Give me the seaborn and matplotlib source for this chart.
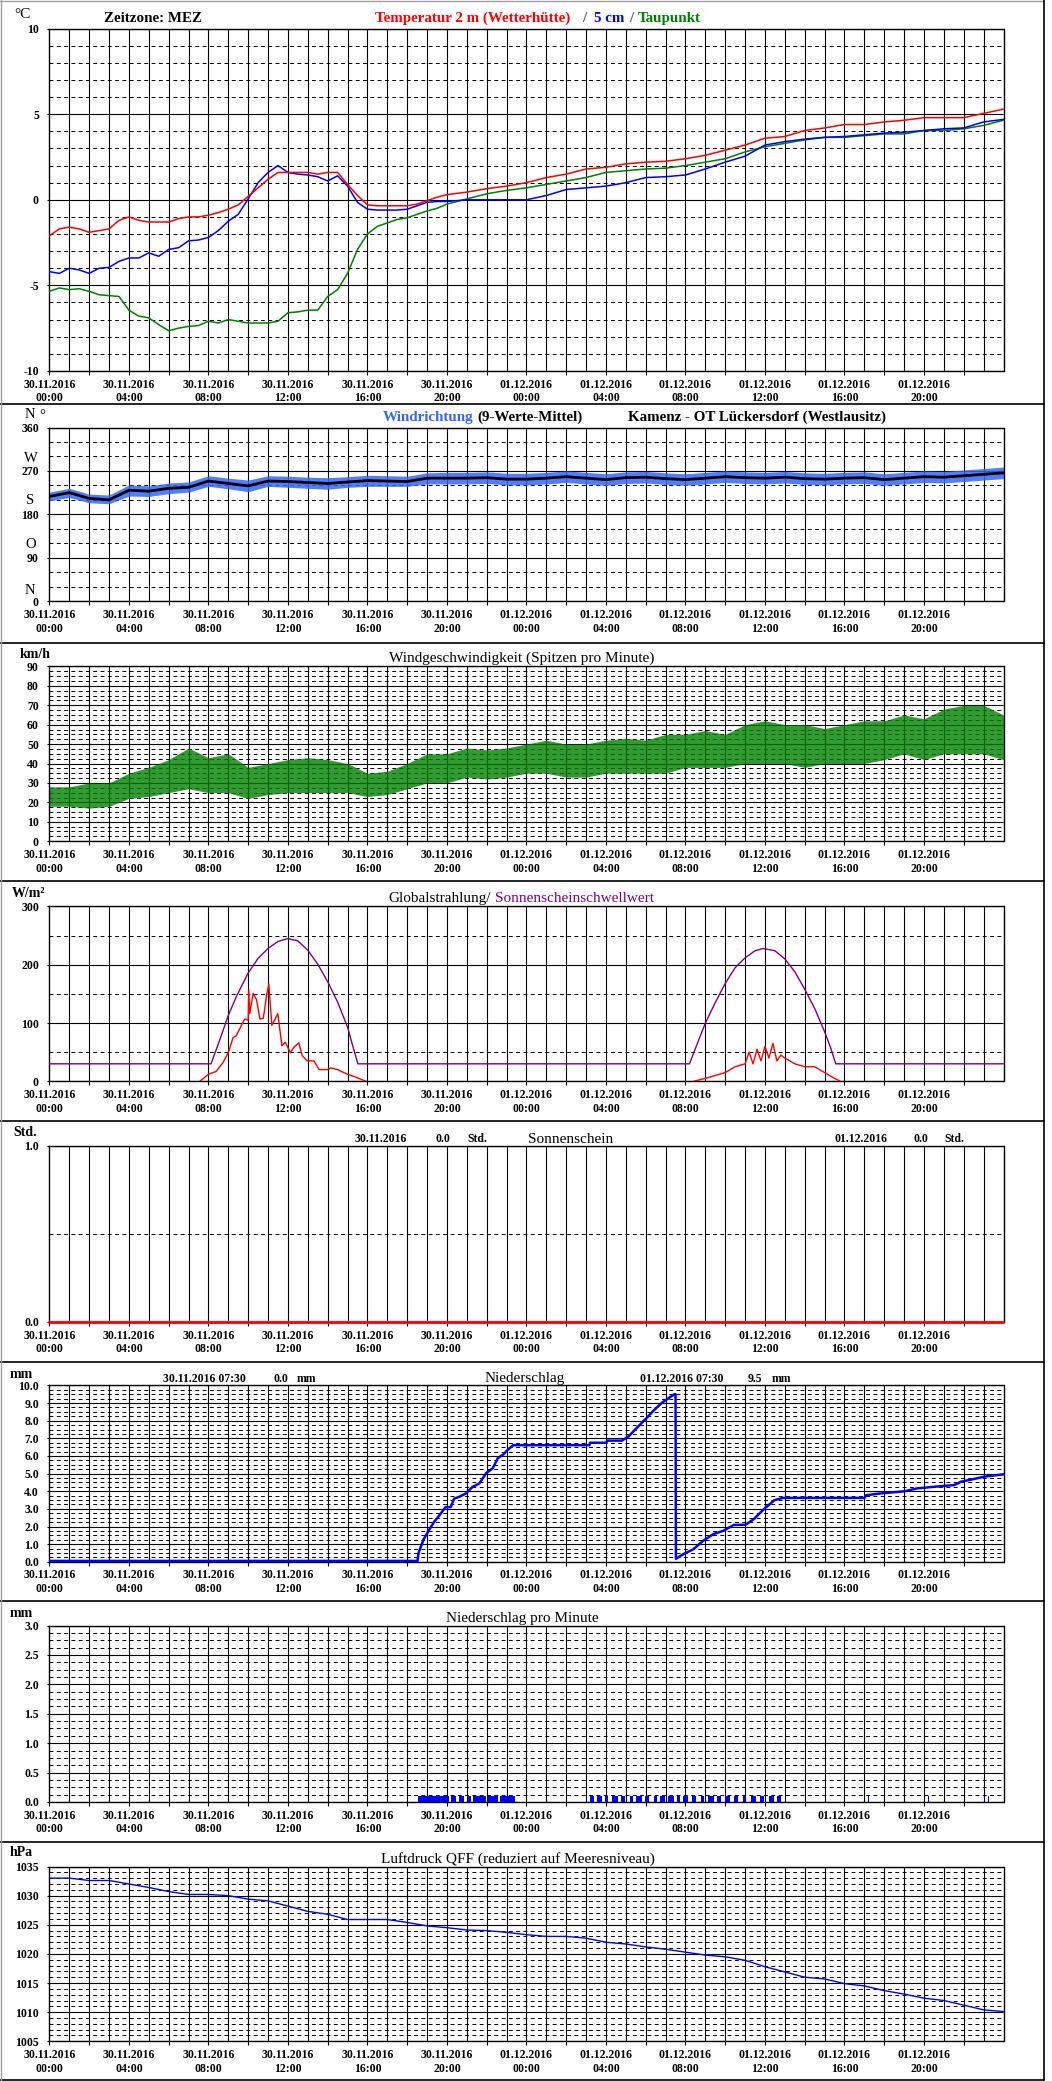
import numpy as np
import pandas as pd
import matplotlib
matplotlib.use("Agg")
import matplotlib.pyplot as plt
import seaborn as sns
from matplotlib.lines import Line2D

# ---------------- data (hours since 30.11.2016 00:00) ----------------
temp_hours = [0, 0.5, 1, 1.5, 2, 2.5, 3, 3.5, 4, 4.5, 5, 5.5, 6, 6.5, 7, 7.5, 8, 8.5, 9, 9.5,
              10, 10.5, 11, 11.5, 12, 12.5, 13, 13.5, 14, 14.5, 15, 15.5, 16, 16.5, 17, 17.5,
              18, 18.5, 19, 19.5, 20, 21, 22, 23, 24, 25, 26, 27, 28, 29, 30, 31, 32, 33, 34,
              35, 36, 37, 38, 39, 40, 41, 42, 43, 44, 45, 46, 47, 48]
temp_2m = [-2.1, -1.7, -1.6, -1.7, -1.9, -1.8, -1.7, -1.2, -1.0, -1.2, -1.3, -1.3, -1.3, -1.1,
           -1.0, -1.0, -0.9, -0.75, -0.55, -0.3, 0.2, 0.7, 1.2, 1.6, 1.6, 1.6, 1.6, 1.5, 1.6,
           1.6, 0.9, 0.25, -0.3, -0.35, -0.35, -0.35, -0.35, -0.25, -0.05, 0.15, 0.3, 0.45,
           0.65, 0.8, 1.0, 1.3, 1.5, 1.8, 1.9, 2.1, 2.2, 2.25, 2.4, 2.6, 2.9, 3.2, 3.6, 3.7,
           4.05, 4.2, 4.4, 4.4, 4.55, 4.65, 4.8, 4.8, 4.8, 5.05, 5.3]
temp_5cm = [-4.2, -4.3, -4.0, -4.1, -4.3, -4.0, -3.95, -3.6, -3.4, -3.4, -3.1, -3.3, -2.9, -2.8,
            -2.4, -2.35, -2.2, -1.8, -1.25, -0.85, 0.05, 1.0, 1.6, 2.0, 1.6, 1.5, 1.45, 1.35,
            1.1, 1.4, 0.8, -0.15, -0.55, -0.6, -0.6, -0.6, -0.55, -0.35, -0.15, -0.1, -0.1,
            0.0, 0.0, 0.0, 0.0, 0.25, 0.6, 0.7, 0.8, 1.0, 1.3, 1.35, 1.45, 1.8, 2.2, 2.55, 3.2,
            3.4, 3.55, 3.65, 3.7, 3.8, 3.9, 3.95, 4.05, 4.15, 4.2, 4.55, 4.7]
dew_point = [-5.35, -5.15, -5.25, -5.2, -5.35, -5.55, -5.6, -5.65, -6.45, -6.8, -6.9, -7.3,
             -7.65, -7.5, -7.4, -7.35, -7.1, -7.2, -7.0, -7.1, -7.2, -7.2, -7.2, -7.1, -6.6,
             -6.55, -6.45, -6.45, -5.65, -5.25, -4.3, -2.9, -2.0, -1.55, -1.35, -1.15, -1.05,
             -0.85, -0.65, -0.5, -0.25, 0.05, 0.35, 0.55, 0.7, 0.9, 1.1, 1.3, 1.6, 1.7, 1.8,
             1.85, 2.0, 2.2, 2.4, 2.8, 3.1, 3.3, 3.5, 3.65, 3.65, 3.75, 3.85, 3.85, 4.05, 4.05,
             4.15, 4.35, 4.65]

hourly = list(range(49))
dir_mean = [217, 225, 213, 210, 230, 228, 234, 236, 249, 244, 239, 249, 248, 246, 244, 247, 250,
            249, 248, 255, 255, 255, 256, 253, 253, 255, 258, 255, 252, 256, 257, 254, 252, 255,
            258, 256, 255, 257, 254, 253, 255, 256, 252, 255, 258, 257, 260, 263, 266]
dir_low = [208, 215, 204, 202, 218, 217, 223, 226, 238, 233, 227, 238, 236, 234, 232, 236, 238,
           238, 238, 243, 243, 243, 244, 241, 241, 243, 246, 243, 240, 244, 245, 242, 240, 243,
           246, 244, 243, 245, 242, 241, 243, 244, 240, 243, 246, 245, 248, 251, 254]
dir_high = [226, 234, 222, 220, 241, 239, 245, 247, 260, 255, 251, 260, 259, 257, 256, 258, 261,
            260, 259, 266, 267, 267, 268, 265, 265, 267, 270, 267, 264, 268, 269, 266, 264, 267,
            270, 268, 267, 269, 266, 265, 267, 268, 264, 267, 270, 269, 272, 275, 278]

ws_low = [18, 18, 17, 18, 22, 23, 25, 27, 25, 25, 22, 24, 25, 25, 25, 25, 23, 24, 27, 30, 30, 33,
          32, 33, 35, 35, 33, 33, 35, 35, 35, 35, 38, 38, 38, 40, 40, 40, 38, 40, 40, 40, 42, 45,
          42, 45, 45, 45, 42]
ws_high = [28, 28, 30, 30, 35, 38, 42, 48, 43, 45, 38, 40, 42, 43, 42, 40, 35, 36, 40, 45, 45, 48,
           47, 48, 50, 52, 50, 50, 52, 53, 52, 55, 55, 57, 55, 60, 62, 60, 60, 58, 60, 62, 62, 65,
           63, 68, 70, 70, 65]

rad1_hours = [7.57, 8.0, 8.39, 8.73, 9.0, 9.24, 9.4, 9.66, 9.83, 10.0, 10.03, 10.08, 10.25, 10.42,
              10.59, 10.76, 10.93, 11.04, 11.19, 11.36, 11.49, 11.70, 11.87, 12.12, 12.29, 12.55,
              12.72, 12.97, 13.31, 13.57, 13.99, 14.16, 14.5, 15.0, 15.35, 15.77, 15.95]
rad1_vals = [0, 12, 17, 32, 49, 75, 78, 96, 107, 105, 157, 116, 151, 140, 107, 108, 148, 167, 96,
             107, 116, 61, 67, 49, 58, 66, 44, 35, 35, 20, 20, 23, 20, 12, 8, 2, 0]
rad2_hours = [32.4, 33, 33.5, 34, 34.5, 35, 35.2, 35.4, 35.6, 35.8, 36, 36.2, 36.4, 36.6, 36.8,
              37, 37.5, 38, 38.5, 39, 39.5, 39.8]
rad2_vals = [0, 5, 10, 15, 25, 30, 50, 30, 55, 35, 60, 40, 65, 35, 45, 40, 30, 25, 25, 15, 5, 0]
thr_hours = [0, 8.13, 8.56, 9.0, 9.4, 10.0, 10.5, 11.0, 11.5, 12.0, 12.5, 13.0, 13.5, 14.0, 14.5,
             15.0, 15.26, 15.52, 32.2, 32.6, 33, 33.5, 34, 34.5, 35, 35.5, 35.9, 36.5, 37, 37.5,
             38, 38.5, 39, 39.3, 39.56, 48]
thr_vals = [30, 30, 70, 113, 145, 186, 211, 228, 240, 245, 241, 225, 201, 171, 136, 93, 61, 30,
            30, 65, 100, 135, 168, 195, 212, 224, 228, 224, 210, 188, 158, 125, 85, 58, 30, 30]

sun_hours = [0, 48]
sun_vals = [0.0, 0.0]

pc_hours = [0, 18.52, 18.57, 18.83, 19.08, 19.34, 19.59, 19.93, 20.19, 20.36, 20.61, 20.95, 21.29,
            21.63, 21.97, 22.31, 22.56, 22.82, 23.07, 23.33, 27.17, 27.2, 28.03, 28.06, 28.8,
            29.13, 29.56, 30.0, 30.42, 30.84, 31.18, 31.44, 31.5, 31.52, 31.87, 32.38, 32.89,
            33.4, 33.91, 34.43, 35.02, 35.45, 35.96, 36.47, 36.9, 41.0, 41.08, 41.76, 43.04,
            43.64, 44.58, 45.52, 45.86, 46.54, 47.05, 48.0]
pc_vals = [0.05, 0.05, 0.5, 1.28, 1.76, 2.24, 2.59, 3.1, 3.1, 3.58, 3.68, 3.87, 4.25, 4.44, 5.02,
           5.31, 5.88, 6.07, 6.36, 6.61, 6.61, 6.75, 6.75, 6.87, 6.87, 7.1, 7.6, 8.1, 8.6, 9.04,
           9.3, 9.5, 9.5, 0.17, 0.42, 0.7, 1.19, 1.57, 1.76, 2.09, 2.1, 2.43, 3.0, 3.49, 3.62,
           3.62, 3.77, 3.87, 4.0, 4.16, 4.26, 4.35, 4.54, 4.7, 4.83, 4.96]

pm_start = [18.52, 20.19, 20.61, 21.04, 21.29, 22.05, 22.65,
            27.2, 27.55, 27.95, 28.3, 28.75, 29.2, 29.5, 29.95, 30.4, 30.7, 31.1, 31.55, 31.9,
            32.35, 32.8, 33.15, 33.6, 34.0, 34.45, 34.9, 35.3, 35.75, 36.2, 36.6,
            41.2, 44.2, 47.2]
pm_width = [1.58, 0.25, 0.26, 0.16, 0.68, 0.51, 0.76,
            0.2, 0.25, 0.15, 0.3, 0.2, 0.15, 0.3, 0.2, 0.15, 0.25, 0.3, 0.15, 0.25,
            0.2, 0.15, 0.3, 0.2, 0.25, 0.2, 0.15, 0.25, 0.2, 0.25, 0.2,
            0.05, 0.05, 0.05]
pm_height = [0.1] * len(pm_start)

pr_vals = [1033.0, 1033.0, 1032.6, 1032.6, 1032.0, 1031.4, 1030.7, 1030.2, 1030.2, 1030.0,
           1029.4, 1029.1, 1028.2, 1027.3, 1026.8, 1025.9, 1025.9, 1025.9, 1025.4, 1024.8,
           1024.5, 1024.1, 1024.0, 1023.7, 1023.3, 1023.0, 1023.0, 1022.7, 1022.0, 1021.7,
           1021.2, 1020.8, 1020.3, 1019.8, 1019.5, 1018.9, 1017.8, 1016.9, 1016.0, 1015.7,
           1014.9, 1014.5, 1013.7, 1013.1, 1012.4, 1012.0, 1011.2, 1010.4, 1010.1]

tick_hours = list(range(0, 48, 2))
tick_labels = ["30.11.2016\n00:00", "", "30.11.2016\n04:00", "", "30.11.2016\n08:00", "",
               "30.11.2016\n12:00", "", "30.11.2016\n16:00", "", "30.11.2016\n20:00", "",
               "01.12.2016\n00:00", "", "01.12.2016\n04:00", "", "01.12.2016\n08:00", "",
               "01.12.2016\n12:00", "", "01.12.2016\n16:00", "", "01.12.2016\n20:00", ""]

# ---------------- style ----------------
sns.set_theme(style="white")
plt.rcParams['font.family'] = ['Liberation Serif', 'DejaVu Serif']
plt.rcParams['axes.unicode_minus'] = False

W, H = 1052, 2081
L, R = 49.4, 1003.5
fig = plt.figure(figsize=(W / 100, H / 100), dpi=100)
fig.patch.set_facecolor('white')

RED, BLUE, GREEN = '#ff0000', '#0000ff', '#008000'
WBLUE, PURPLE = '#3366ff', '#800080'
TICK_FS = 8.5


def make_axis(top, height, ymin, ymax, major, minor, labels):
    ax = fig.add_axes([L / W, 1 - (top + height) / H, (R - L) / W, height / H])
    ax.set_xlim(0, 48)
    ax.set_ylim(ymin, ymax)
    ax.set_facecolor('white')
    ax.grid(False)
    ax.vlines(np.arange(1, 48), ymin, ymax, colors='black', lw=0.8, zorder=1)
    if len(minor):
        ax.hlines(minor, 0, 48, colors='black', lw=0.7, linestyles=(0, (4, 3.5)), zorder=1)
    ax.hlines(major, 0, 48, colors='black', lw=0.8, zorder=1)
    ax.set_xticks(tick_hours)
    ax.set_xticklabels(tick_labels, fontsize=TICK_FS, fontweight='bold', linespacing=1.2)
    ax.set_yticks(major)
    ax.set_yticklabels(labels, fontsize=TICK_FS, fontweight='bold')
    ax.tick_params(axis='x', bottom=True, direction='out', length=3, width=0.8, pad=2.5,
                   colors='black')
    ax.tick_params(axis='y', left=True, direction='out', length=1.5, width=0.8, pad=6,
                   colors='black')
    for s in ax.spines.values():
        s.set_color('black')
        s.set_linewidth(1.0)
        s.set_visible(True)
    ax.set_xlabel('')
    ax.set_ylabel('')
    return ax


def ftext(x, y, s, **kw):
    kw.setdefault('va', 'center')
    kw.setdefault('color', 'black')
    return fig.text(x / W, 1 - y / H, s, **kw)


renderer = fig.canvas.get_renderer()


def width_px(t):
    return t.get_window_extent(renderer=renderer).width


def seq(x, y, pieces, size, weight):
    for s, c, gap in pieces:
        t = ftext(x, y, s, color=c, fontsize=size, fontweight=weight, ha='left')
        x += width_px(t) + gap


def line(ax, x, y, color, lw, z=3, **kw):
    sns.lineplot(x=x, y=y, ax=ax, color=color, linewidth=lw, sort=False, estimator=None,
                 legend=False, zorder=z, **kw)
    ax.set_xlabel('')
    ax.set_ylabel('')


# ---------------- panel 1: temperature ----------------
ax1 = make_axis(28.7, 342.2, -10, 10, [-10, -5, 0, 5, 10],
                [v for v in range(-9, 10) if v % 5 != 0], ['-10', '-5', '0', '5', '10'])
line(ax1, temp_hours, dew_point, GREEN, 1.1)
line(ax1, temp_hours, temp_5cm, BLUE, 1.1)
line(ax1, temp_hours, temp_2m, RED, 1.1)
ftext(14, 14, '°C', fontsize=11, ha='left')
ftext(104, 18.6, 'Zeitzone: MEZ', fontsize=10.8, fontweight='bold', ha='left')
ftext(374.6, 18.6, 'Temperatur 2 m (Wetterhütte)', color=RED, fontsize=10.8,
      fontweight='bold', ha='left')
ftext(583.8, 18.6, '/', color='#555555', fontsize=10.8, fontweight='bold', ha='center')
ftext(594, 18.6, '5 cm', color=BLUE, fontsize=10.8, fontweight='bold', ha='left')
ftext(631, 18.6, '/', color='#555555', fontsize=10.8, fontweight='bold', ha='center')
ftext(638, 18.6, 'Taupunkt', color=GREEN, fontsize=10.8, fontweight='bold', ha='left')

# ---------------- panel 2: wind direction ----------------
ax2 = make_axis(427.5, 173.7, 0, 360, [0, 90, 180, 270, 360],
                [30, 60, 120, 150, 210, 240, 300, 330], ['0', '90', '180', '270', '360'])
ax2.fill_between(hourly, dir_low, dir_high, color=WBLUE, alpha=0.85, lw=0, zorder=2)
line(ax2, hourly, dir_mean, 'black', 2.0)
for lab, yy in [('N', 415), ('W', 458), ('S', 501), ('O', 544.7), ('N', 590)]:
    ftext(30.4, yy, lab, fontsize=10.5, ha='center')
ftext(42, 416, '°', fontsize=10.5, ha='center')
seq(383, 417.6, [('Windrichtung', WBLUE, 3.8), ('(9-Werte-Mittel)', 'black', 0)], 10.8, 'bold')
ftext(627.5, 417.6, 'Kamenz - OT Lückersdorf (Westlausitz)', fontsize=10.8,
      fontweight='bold', ha='left')

# ---------------- panel 3: wind speed ----------------
ax3 = make_axis(666.4, 174.8, 0, 90, list(range(0, 91, 10)),
                [v for v in np.arange(0, 90.01, 2.5) if v % 10 != 0],
                [str(v) for v in range(0, 91, 10)])
ax3.fill_between(hourly, ws_low, ws_high, color=GREEN, alpha=0.8, lw=0, zorder=2)
ftext(20, 655, 'km/h', fontsize=10, fontweight='bold', ha='left')
ftext(388.8, 658.6, 'Windgeschwindigkeit (Spitzen pro Minute)', fontsize=11, ha='left')

# ---------------- panel 4: global radiation ----------------
ax4 = make_axis(906.5, 174.8, 0, 300, [0, 100, 200, 300], [50, 150, 250],
                ['0', '100', '200', '300'])
line(ax4, thr_hours, thr_vals, PURPLE, 1.0)
line(ax4, rad1_hours, rad1_vals, RED, 1.0)
line(ax4, rad2_hours, rad2_vals, RED, 1.0)
ftext(12, 893.7, 'W/m²', fontsize=10, fontweight='bold', ha='left')
seq(388.8, 898.7, [('Globalstrahlung/', 'black', 3.8), ('Sonnenscheinschwellwert', PURPLE, 0)],
    11, 'normal')

# ---------------- panel 5: sunshine ----------------
ax5 = make_axis(1145.5, 176.5, 0, 1, [0, 1], [0.5], ['0.0', '1.0'])
line(ax5, sun_hours, sun_vals, RED, 2.0, z=5, clip_on=False)
ftext(13, 1132, 'Std.', fontsize=10, fontweight='bold', ha='left')
ftext(381, 1138.7, '30.11.2016', fontsize=TICK_FS, fontweight='bold', ha='center')
ftext(443, 1138.7, '0.0', fontsize=TICK_FS, fontweight='bold', ha='center')
ftext(477, 1138.7, 'Std.', fontsize=TICK_FS, fontweight='bold', ha='center')
ftext(528, 1139.5, 'Sonnenschein', fontsize=11, ha='left')
ftext(861, 1139.5, '01.12.2016', fontsize=TICK_FS, fontweight='bold', ha='center')
ftext(920.6, 1139.5, '0.0', fontsize=TICK_FS, fontweight='bold', ha='center')
ftext(954, 1139.5, 'Std.', fontsize=TICK_FS, fontweight='bold', ha='center')

# ---------------- panel 6: precipitation (cumulative) ----------------
ax6 = make_axis(1385.4, 176.4, 0, 10, list(range(0, 11)),
                [v for v in np.arange(0, 10.01, 0.25) if abs(v - round(v)) > 1e-6],
                [f'{v:.1f}' for v in range(0, 11)])
line(ax6, pc_hours, pc_vals, BLUE, 1.8)
ftext(10, 1374, 'mm', fontsize=10, fontweight='bold', ha='left')
ftext(204.6, 1378.6, '30.11.2016 07:30', fontsize=TICK_FS, fontweight='bold', ha='center')
ftext(280.5, 1378.6, '0.0', fontsize=TICK_FS, fontweight='bold', ha='center')
ftext(306.6, 1378.6, 'mm', fontsize=TICK_FS, fontweight='bold', ha='center')
ftext(485, 1378.6, 'Niederschlag', fontsize=11, ha='left')
ftext(682, 1378.6, '01.12.2016 07:30', fontsize=TICK_FS, fontweight='bold', ha='center')
ftext(755, 1378.6, '9.5', fontsize=TICK_FS, fontweight='bold', ha='center')
ftext(781, 1378.6, 'mm', fontsize=TICK_FS, fontweight='bold', ha='center')

# ---------------- panel 7: precipitation per minute ----------------
ax7 = make_axis(1625.5, 176.5, 0, 3, [0, 0.5, 1, 1.5, 2, 2.5, 3],
                [v for v in np.arange(0, 3.001, 0.125) if abs(v * 2 - round(v * 2)) > 1e-6],
                ['0.0', '0.5', '1.0', '1.5', '2.0', '2.5', '3.0'])
ax7.bar(pm_start, pm_height, width=pm_width, align='edge', color=BLUE, lw=0, zorder=3)
ftext(10, 1613.7, 'mm', fontsize=10, fontweight='bold', ha='left')
ftext(446, 1618.7, 'Niederschlag pro Minute', fontsize=11, ha='left')

# ---------------- panel 8: pressure ----------------
ax8 = make_axis(1866.5, 174.8, 1005, 1035, list(range(1005, 1036, 5)),
                [v for v in range(1006, 1035) if v % 5 != 0],
                [str(v) for v in range(1005, 1036, 5)])
line(ax8, hourly, pr_vals, BLUE, 1.0)
ftext(10, 1852, 'hPa', fontsize=10, fontweight='bold', ha='left')
ftext(381, 1858.7, 'Luftdruck QFF (reduziert auf Meeresniveau)', fontsize=11, ha='left')

# ---------------- frame / separators ----------------
def hline_px(y, x0, x1, color='black', lw=1.2):
    fig.add_artist(Line2D([x0 / W, x1 / W], [1 - y / H, 1 - y / H], color=color, lw=lw))


def vline_px(x, y0, y1, color='black', lw=1.2):
    fig.add_artist(Line2D([x / W, x / W], [1 - y0 / H, 1 - y1 / H], color=color, lw=lw))


for ysep in [404, 643, 881, 1121, 1362, 1601, 1842, 2079.5]:
    hline_px(ysep, 0, 1044)
hline_px(0.6, 0, 1044, color='#a0a0a0', lw=1.0)
vline_px(0.6, 0, 2080, color='#a0a0a0', lw=1.0)
vline_px(1044, 0, 2080)

fig.savefig('out.png', dpi=100, facecolor='white')
